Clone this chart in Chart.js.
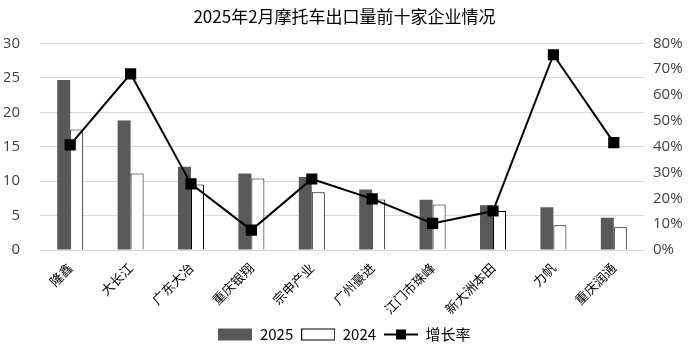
<!DOCTYPE html>
<html>
<head>
<meta charset="utf-8">
<script src="https://cdn.jsdelivr.net/npm/chart.js@4"></script>
<style>
  html, body { margin: 0; padding: 0; background: #fff; }
  #wrap { width: 691px; height: 352px; }
</style>
</head>
<body>
<div id="wrap"><canvas id="chart"></canvas></div>
<script>
// Data
const companies = ["隆鑫", "大长江", "广东大冶", "重庆银翔", "宗申产业", "广州豪进", "江门市珠峰", "新大洲本田", "力帆", "重庆润通"];
const exports2025 = [24.7, 18.8, 12.1, 11.1, 10.6, 8.8, 7.3, 6.5, 6.2, 4.7];
const exports2024 = [17.5, 11.1, 9.5, 10.4, 8.4, 7.35, 6.6, 5.65, 3.6, 3.3];
const growthRate = [40.7, 68.2, 25.6, 7.7, 27.5, 19.8, 10.3, 15.1, 75.6, 41.6];

const leftTicks = [0, 5, 10, 15, 20, 25, 30];
const rightTicks = [0, 10, 20, 30, 40, 50, 60, 70, 80];

// Small legend icons drawn on offscreen canvases
function legendIcon(kind) {
  const c = document.createElement("canvas");
  c.width = 34;
  c.height = 14;
  const g = c.getContext("2d");
  if (kind === "dark") {
    g.fillStyle = "#595959";
    g.fillRect(0, 1, 34, 12);
  } else if (kind === "white") {
    g.fillStyle = "#fff";
    g.fillRect(0, 1, 34, 12);
    g.strokeStyle = "#000";
    g.lineWidth = 1;
    g.strokeRect(0.5, 1.5, 33, 11);
  } else {
    g.strokeStyle = "#000";
    g.lineWidth = 2;
    g.beginPath();
    g.moveTo(0, 7);
    g.lineTo(34, 7);
    g.stroke();
    g.fillStyle = "#000";
    g.fillRect(12, 2, 10, 10);
  }
  return c;
}
const icons = [legendIcon("dark"), legendIcon("white"), legendIcon("line")];

const ctx = document.getElementById("chart").getContext("2d");

new Chart(ctx, {
  data: {
    labels: companies,
    datasets: [
      {
        type: "line",
        label: "增长率",
        data: growthRate,
        yAxisID: "y1",
        borderColor: "#000",
        backgroundColor: "#000",
        borderWidth: 2,
        pointStyle: "rect",
        pointRadius: 6.5,
        pointHoverRadius: 6.5,
        tension: 0,
        order: 0,
      },
      {
        type: "bar",
        label: "2025",
        data: exports2025,
        yAxisID: "y",
        backgroundColor: "#595959",
        borderWidth: 0,
        categoryPercentage: 0.43,
        barPercentage: 1,
        order: 1,
      },
      {
        type: "bar",
        label: "2024",
        data: exports2024,
        yAxisID: "y",
        backgroundColor: "#fff",
        borderColor: "#000",
        borderWidth: 1,
        categoryPercentage: 0.43,
        barPercentage: 1,
        order: 1,
      },
    ],
  },
  options: {
    responsive: true,
    maintainAspectRatio: false,
    animation: false,
    layout: { padding: { left: 4, right: 6, top: 2, bottom: 0 } },
    plugins: {
      title: {
        display: true,
        text: "2025年2月摩托车出口量前十家企业情况",
        color: "#000",
        font: { family: "Noto Sans CJK SC", size: 17, weight: "normal" },
        padding: { top: 4, bottom: 17 },
      },
      legend: {
        position: "bottom",
        labels: {
          usePointStyle: true,
          pointStyleWidth: 34,
          boxHeight: 14,
          color: "#000",
          font: { family: "Liberation Sans Narrow, Noto Sans CJK SC", size: 15 },
          padding: 8,
          generateLabels: (chart) => {
            const order = [1, 2, 0];
            return order.map((di, i) => ({
              text: chart.data.datasets[di].label,
              pointStyle: icons[i],
              fillStyle: "#000",
              strokeStyle: "#000",
              lineWidth: 0,
              hidden: false,
              datasetIndex: di,
              fontColor: "#000",
            }));
          },
        },
      },
      tooltip: { enabled: false },
    },
    scales: {
      x: {
        grid: { display: false },
        border: { display: false },
        ticks: {
          minRotation: 45,
          maxRotation: 45,
          color: "#000",
          padding: 2,
          font: { family: "Noto Sans CJK SC", size: 13 },
        },
      },
      y: {
        position: "left",
        min: 0,
        max: 30,
        afterBuildTicks: (axis) => {
          axis.ticks = leftTicks.map((v) => ({ value: v }));
        },
        afterFit: (s) => {
          s.width = 36;
        },
        grid: { color: "#d9d9d9", drawTicks: false, lineWidth: 1 },
        border: { display: false },
        ticks: {
          color: "#404040",
          padding: 20,
          font: { family: "Open Sans", size: 15 },
        },
      },
      y1: {
        position: "right",
        min: 0,
        max: 80,
        afterBuildTicks: (axis) => {
          axis.ticks = rightTicks.map((v) => ({ value: v }));
        },
        afterFit: (s) => {
          s.width = 41;
        },
        grid: { display: false, drawTicks: false },
        border: { display: false },
        ticks: {
          color: "#404040",
          padding: 9,
          font: { family: "Open Sans", size: 15 },
          callback: (v) => v + "%",
        },
      },
    },
  },
});
</script>
</body>
</html>
